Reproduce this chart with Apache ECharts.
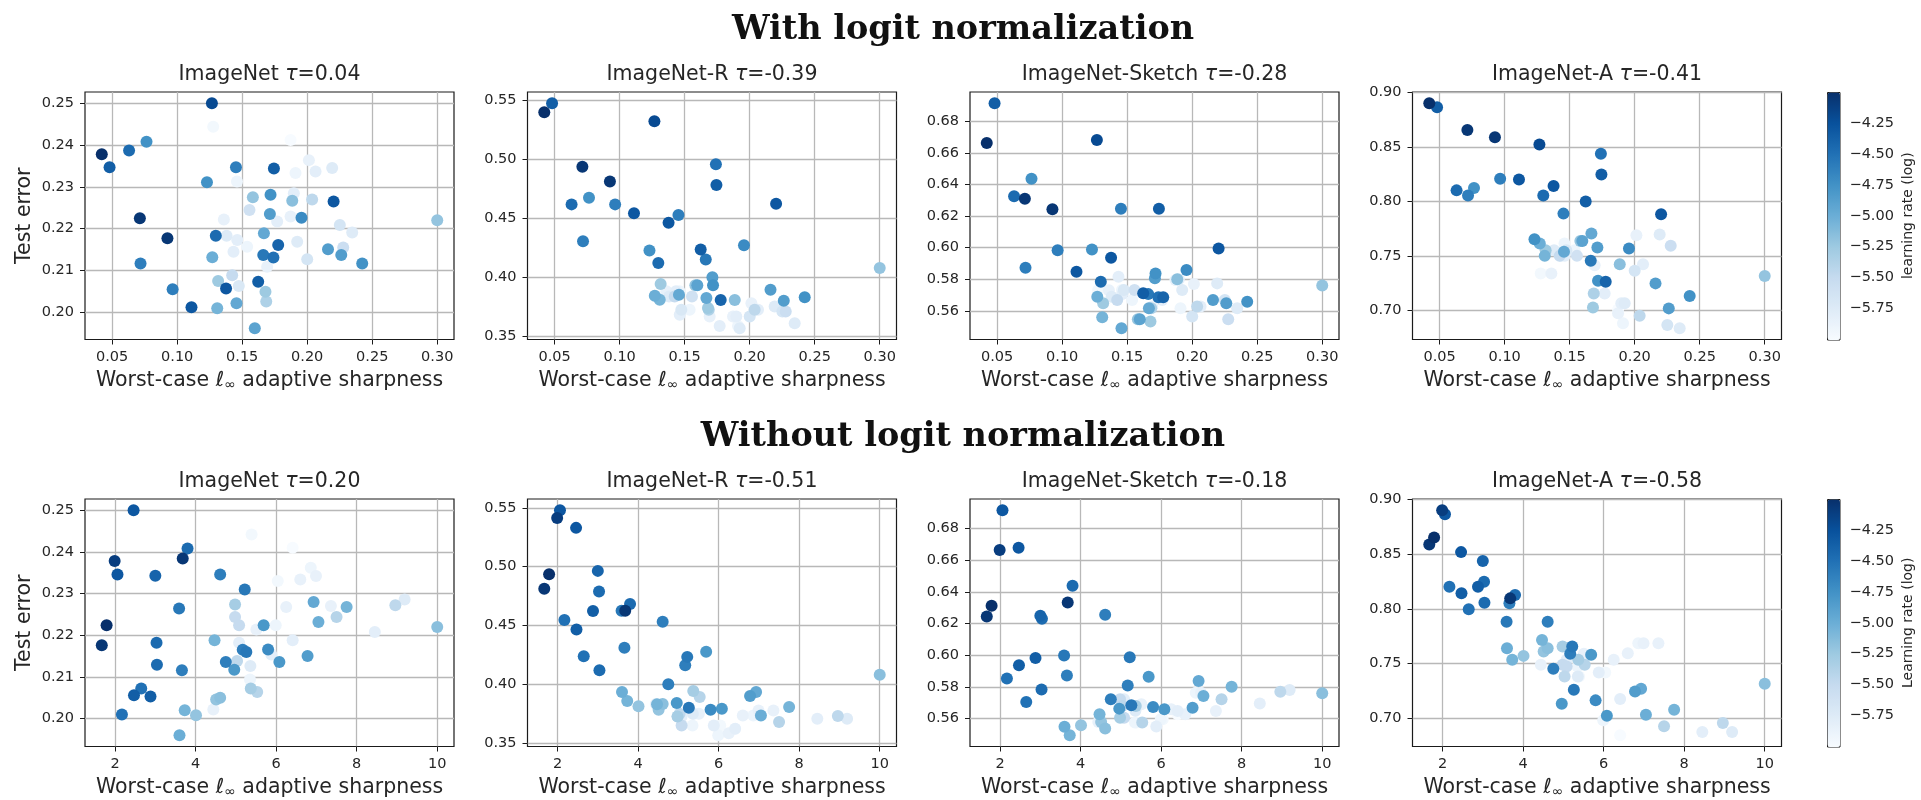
<!DOCTYPE html>
<html>
<head>
<meta charset="utf-8">
<script src="https://cdn.jsdelivr.net/npm/echarts@6/dist/echarts.min.js"></script>
<style>
  html, body { margin: 0; padding: 0; background: #ffffff; }
  #chart { width: 1921px; height: 800px; }
</style>
</head>
<body>
<div id="chart"></div>
<script>
// ---- panels ----
const DATASETS = ['ImageNet', 'ImageNet-R', 'ImageNet-Sketch', 'ImageNet-A'];
const TAU_NORM = ['0.04', '-0.39', '-0.28', '-0.41'];
const TAU_RAW = ['0.20', '-0.51', '-0.18', '-0.58'];

// ---- tick labels ----
const X_TICKS_NORM = [0.05, 0.10, 0.15, 0.20, 0.25, 0.30];
const X_TICKS_RAW = [2, 4, 6, 8, 10];
const Y_TICKS_IN = [0.20, 0.21, 0.22, 0.23, 0.24, 0.25];
const Y_TICKS_R = [0.35, 0.40, 0.45, 0.50, 0.55];
const Y_TICKS_SKETCH = [0.56, 0.58, 0.60, 0.62, 0.64, 0.66, 0.68];
const Y_TICKS_A = [0.70, 0.75, 0.80, 0.85, 0.90];
const CBAR_TICKS = [-5.75, -5.50, -5.25, -5.00, -4.75, -4.50, -4.25];

// ---- with logit normalization: one entry per model ----
const SHARP_NORM = [0.042, 0.048, 0.063, 0.0713, 0.0718, 0.0764, 0.0925, 0.0965, 0.111, 0.1267,
  0.1229, 0.1297, 0.1376, 0.1452, 0.1744, 0.1740, 0.1623, 0.2203, 0.1662, 0.1777,
  0.1956, 0.216, 0.2262, 0.2423, 0.30, 0.1718, 0.1713, 0.1667, 0.1582, 0.127,
  0.1315, 0.1308, 0.1456, 0.1597, 0.1679, 0.1685, 0.1885, 0.2038, 0.1556, 0.1359,
  0.138, 0.1462, 0.1538, 0.1433, 0.1423, 0.1474, 0.1692, 0.1769, 0.1872, 0.1923,
  0.2, 0.191, 0.2013, 0.2064, 0.2192, 0.1872, 0.1277, 0.2251, 0.2346, 0.2277,
  0.1897, 0.146];
const LR_NORM = [-4.0, -4.35, -4.45, -4.05, -4.6, -4.75, -4.05, -4.6, -4.3, -4.2,
  -4.75, -4.45, -4.3, -4.6, -4.35, -4.5, -4.35, -4.3, -4.55, -4.4,
  -4.7, -4.85, -4.85, -4.75, -5.2, -4.75, -4.85, -4.95, -5.2, -5.0,
  -5.25, -5.05, -4.95, -4.9, -5.25, -5.35, -5.15, -5.45, -5.6, -5.85,
  -5.75, -5.8, -5.9, -5.8, -5.5, -5.7, -5.85, -5.8, -5.85, -5.75,
  -5.65, -5.9, -5.85, -5.8, -5.75, -6.0, -5.95, -5.65, -5.75, -5.55,
  -5.8, -5.9];
const ERR_NORM_IN = [0.2378, 0.2347, 0.2387, 0.2225, 0.2117, 0.2408, 0.2177, 0.2055, 0.2012, 0.25,
  0.2311, 0.2183, 0.2057, 0.2347, 0.2344, 0.2131, 0.2073, 0.2265, 0.2137, 0.2161,
  0.2226, 0.2151, 0.2137, 0.2117, 0.222, 0.2281, 0.2235, 0.2189, 0.2275, 0.2132,
  0.2075, 0.201, 0.2022, 0.1962, 0.2049, 0.2026, 0.2267, 0.227, 0.2245, 0.2222,
  0.2183, 0.2173, 0.2157, 0.2145, 0.2089, 0.2063, 0.2109, 0.2217, 0.2229, 0.2169,
  0.2127, 0.2333, 0.2364, 0.2337, 0.2345, 0.2412, 0.2444, 0.2209, 0.2191, 0.2155,
  0.2285, 0.2313];
const ERR_NORM_R = [0.540, 0.5477, 0.4619, 0.4938, 0.4307, 0.4676, 0.4813, 0.4619, 0.4543, 0.5324,
  0.4227, 0.4122, 0.4463, 0.4528, 0.4784, 0.496, 0.4236, 0.4625, 0.4151, 0.3807,
  0.4273, 0.3895, 0.3801, 0.3832, 0.408, 0.3932, 0.40, 0.3824, 0.3932, 0.3844,
  0.3943, 0.381, 0.3852, 0.3932, 0.3739, 0.3725, 0.3807, 0.3725, 0.3838, 0.3881,
  0.3838, 0.3682, 0.3725, 0.3881, 0.3838, 0.3725, 0.3668, 0.3588, 0.3668, 0.3568,
  0.3668, 0.3588, 0.3781, 0.3725, 0.3753, 0.3668, 0.3838, 0.371, 0.3611, 0.371,
  0.3668, 0.3881];
const ERR_NORM_SKETCH = [0.6663, 0.6914, 0.6325, 0.631, 0.5873, 0.6436, 0.6243, 0.5984, 0.5848, 0.6682,
  0.5989, 0.5785, 0.5936, 0.6247, 0.6247, 0.5686, 0.5711, 0.5995, 0.5706, 0.5686,
  0.5858, 0.5669, 0.5648, 0.5658, 0.576, 0.5837, 0.5806, 0.5617, 0.5547, 0.569,
  0.5648, 0.556, 0.549, 0.5547, 0.5532, 0.5617, 0.58, 0.5627, 0.5732, 0.573,
  0.569, 0.5706, 0.5669, 0.5816, 0.5669, 0.5732, 0.5627, 0.5669, 0.5795, 0.5732,
  0.5564, 0.5617, 0.577, 0.5627, 0.5774, 0.5795, 0.5732, 0.5669, 0.5617, 0.5547,
  0.58, 0.5732];
const ERR_NORM_A = [0.890, 0.8863, 0.8102, 0.8656, 0.8056, 0.8123, 0.8589, 0.8209, 0.8202, 0.8522,
  0.7655, 0.8056, 0.8142, 0.7889, 0.8248, 0.8437, 0.80, 0.7883, 0.7457, 0.7265,
  0.7569, 0.725, 0.7021, 0.7134, 0.7317, 0.7274, 0.7578, 0.7706, 0.7639, 0.7615,
  0.7554, 0.7502, 0.7539, 0.7639, 0.703, 0.7158, 0.7426, 0.6954, 0.7502, 0.734,
  0.7554, 0.7502, 0.7554, 0.7502, 0.7502, 0.7554, 0.7417, 0.7158, 0.6976, 0.7067,
  0.7365, 0.6884, 0.7691, 0.7426, 0.7697, 0.7010, 0.734, 0.6869, 0.6839, 0.7594,
  0.7067, 0.7615];

// ---- without logit normalization: one entry per model ----
const SHARP_RAW = [1.67, 1.79, 1.99, 2.06, 2.17, 2.46, 2.47, 2.65, 2.88, 3.0,
  3.03, 3.04, 3.59, 3.66, 3.68, 3.80, 4.61, 3.60, 3.73, 4.01,
  4.47, 4.75, 4.96, 5.26, 5.22, 5.17, 5.69, 5.80, 6.08, 6.78,
  6.93, 7.05, 7.75, 10.0, 4.51, 4.61, 4.98, 5.37, 5.53, 7.50,
  8.96, 4.98, 5.08, 5.03, 4.44, 5.08, 5.35, 5.36, 5.51, 5.88,
  5.99, 6.25, 6.41, 6.04, 6.60, 6.86, 6.99, 6.41, 5.39, 7.36,
  8.45, 9.19];
const LR_RAW = [-4.05, -4.0, -4.1, -4.3, -4.5, -4.3, -4.35, -4.5, -4.35, -4.4,
  -4.45, -4.45, -4.55, -4.6, -4.05, -4.45, -4.6, -5.0, -5.05, -5.2,
  -5.05, -4.6, -4.8, -4.55, -4.55, -4.6, -4.8, -4.7, -4.8, -4.85,
  -4.95, -5.0, -5.05, -5.15, -5.2, -5.15, -5.3, -5.3, -5.4, -5.4,
  -5.45, -5.5, -5.5, -5.45, -5.85, -5.8, -5.9, -5.75, -5.85, -5.8,
  -5.9, -5.85, -5.8, -5.95, -5.85, -5.9, -5.85, -6.0, -5.95, -5.85,
  -5.8, -5.75];
const ERR_RAW_IN = [0.2176, 0.2224, 0.2378, 0.2346, 0.201, 0.250, 0.2056, 0.2072, 0.2053, 0.2343,
  0.2182, 0.2129, 0.2264, 0.2116, 0.2384, 0.2408, 0.2346, 0.196, 0.202, 0.2008,
  0.2188, 0.2136, 0.2117, 0.216, 0.231, 0.2165, 0.2224, 0.2166, 0.2136, 0.215,
  0.228, 0.2232, 0.2268, 0.222, 0.2046, 0.205, 0.2274, 0.2072, 0.2064, 0.2244,
  0.2272, 0.2244, 0.2224, 0.2138, 0.2022, 0.2182, 0.2094, 0.2126, 0.2214, 0.2154,
  0.2224, 0.2268, 0.2188, 0.233, 0.2334, 0.2362, 0.2342, 0.241, 0.2442, 0.227,
  0.2208, 0.2286];
const ERR_RAW_R = [0.4811, 0.4936, 0.5415, 0.548, 0.4546, 0.533, 0.4466, 0.4238, 0.4623, 0.4964,
  0.4788, 0.4118, 0.4625, 0.4309, 0.4625, 0.4682, 0.4531, 0.3933, 0.3856, 0.3811,
  0.3828, 0.3999, 0.3839, 0.3799, 0.4232, 0.4161, 0.4275, 0.3782, 0.3791, 0.3899,
  0.3933, 0.3734, 0.3805, 0.408, 0.3782, 0.3830, 0.3725, 0.3942, 0.389, 0.3677,
  0.3728, 0.3725, 0.3648, 0.3748, 0.383, 0.3725, 0.3648, 0.3748, 0.3748, 0.3648,
  0.3565, 0.3583, 0.362, 0.3648, 0.3734, 0.3734, 0.3776, 0.362, 0.3748, 0.3776,
  0.3705, 0.3705];
const ERR_RAW_SKETCH = [0.6245, 0.6312, 0.6664, 0.6915, 0.5853, 0.6679, 0.5937, 0.5705, 0.5983, 0.6249,
  0.5784, 0.6230, 0.5998, 0.5872, 0.6333, 0.6438, 0.6255, 0.5548, 0.5495, 0.5558,
  0.5627, 0.5722, 0.5663, 0.5684, 0.5987, 0.5809, 0.5864, 0.5673, 0.5659, 0.5669,
  0.5837, 0.5742, 0.5801, 0.576, 0.5579, 0.5537, 0.5606, 0.568, 0.5575, 0.5722,
  0.577, 0.5722, 0.5606, 0.568, 0.5579, 0.5722, 0.5575, 0.565, 0.569, 0.555,
  0.5596, 0.5659, 0.5648, 0.5596, 0.5627, 0.5763, 0.5763, 0.5627, 0.5575, 0.5648,
  0.5696, 0.578];
const ERR_RAW_A = [0.859, 0.8653, 0.8903, 0.8866, 0.8204, 0.852, 0.8143, 0.7997, 0.8204, 0.8438,
  0.8249, 0.8058, 0.7884, 0.8052, 0.8097, 0.8128, 0.7884, 0.7641, 0.7535, 0.7571,
  0.7717, 0.7453, 0.7134, 0.7261, 0.7656, 0.759, 0.7581, 0.7164, 0.7024, 0.7246,
  0.727, 0.7033, 0.7079, 0.7316, 0.7611, 0.7641, 0.7656, 0.7535, 0.749, 0.6927,
  0.6957, 0.749, 0.7474, 0.7383, 0.749, 0.7535, 0.7474, 0.7383, 0.759, 0.742,
  0.6982, 0.7535, 0.7176, 0.742, 0.7596, 0.7687, 0.7687, 0.6845, 0.7383, 0.7687,
  0.6875, 0.6875];

// matplotlib "Blues" colormap stops
const BLUES = ['#f7fbff', '#deebf7', '#c6dbef', '#9ecae1', '#6baed6', '#4292c6', '#2171b5', '#08519c', '#08306b'];

// ---- layout ----
const FONT = 'DejaVu Sans';
const INK = '#262626';
const PANEL_LEFT = [85, 527.5, 970, 1412.5];
const PANEL_W = 369;
const ROW_TOP = [92, 499];
const PANEL_H = 247.5;
const CBAR_LEFT = 1827;
const CBAR_W = 12.5;

const rows = [
  { sharp: SHARP_NORM, lr: LR_NORM, tau: TAU_NORM, xTicks: X_TICKS_NORM,
    errs: [ERR_NORM_IN, ERR_NORM_R, ERR_NORM_SKETCH, ERR_NORM_A],
    xFmt: v => v.toFixed(2), heading: 'With logit normalization', cbarName: 'learning rate (log)' },
  { sharp: SHARP_RAW, lr: LR_RAW, tau: TAU_RAW, xTicks: X_TICKS_RAW,
    errs: [ERR_RAW_IN, ERR_RAW_R, ERR_RAW_SKETCH, ERR_RAW_A],
    xFmt: v => String(Math.round(v)), heading: 'Without logit normalization', cbarName: 'Learning rate (log)' }
];
const Y_TICKS = [Y_TICKS_IN, Y_TICKS_R, Y_TICKS_SKETCH, Y_TICKS_A];

// matplotlib-style autoscale: data extent plus 5% margin on each side
function padExtent(vals) {
  const lo = Math.min(...vals), hi = Math.max(...vals), m = (hi - lo) * 0.05;
  return [lo - m, hi + m];
}
// draw lighter (lower learning rate) markers first
function panelData(sharp, err, lr) {
  const order = sharp.map((_, i) => i).sort((a, b) => lr[a] - lr[b]);
  return order.map(i => [sharp[i], err[i], lr[i]]);
}

const labelStyle = { fontFamily: FONT, fontSize: 14.5, color: INK, fontWeight: 'normal' };
const nameRich = {
  a: { fontFamily: FONT, fontSize: 20.5, color: INK, fontWeight: 'normal' },
  l: { fontFamily: FONT, fontSize: 20.5, color: INK, fontStyle: 'italic', fontWeight: 'normal' },
  s: { fontFamily: FONT, fontSize: 14, color: INK, fontWeight: 'normal', padding: [10, 0, 0, 0] }
};
const GRID_LINE = { show: true, lineStyle: { color: '#b8b8b8', width: 1.3 } };
const TICK_LINE = { color: '#1a1a1a', width: 1 };

const grid = [], xAxis = [], yAxis = [], series = [], title = [], visualMap = [];

rows.forEach((row, r) => {
  const xExt = padExtent(row.sharp);
  const rowSeries = [];
  for (let c = 0; c < 4; c++) {
    const gi = grid.length;
    grid.push({
      left: PANEL_LEFT[c], top: ROW_TOP[r], width: PANEL_W, height: PANEL_H,
      show: true, borderColor: '#1a1a1a', borderWidth: 1.2, backgroundColor: 'transparent',
      containLabel: false, outerBoundsMode: 'none'
    });
    xAxis.push({
      gridIndex: gi, type: 'value', min: xExt[0], max: xExt[1],
      axisLine: { show: false },
      axisTick: { show: true, customValues: row.xTicks, length: 5, lineStyle: TICK_LINE },
      axisLabel: Object.assign({ customValues: row.xTicks, formatter: row.xFmt, margin: 10 }, labelStyle),
      splitLine: GRID_LINE,
      name: '{a|Worst-case }{l|\u2113}{s|\u221E}{a| adaptive sharpness}',
      nameLocation: 'middle', nameGap: 29,
      nameTextStyle: { rich: nameRich }
    });
    const yExt = padExtent(row.errs[c]);
    const yAx = {
      gridIndex: gi, type: 'value', min: yExt[0], max: yExt[1],
      axisLine: { show: false },
      axisTick: { show: true, customValues: Y_TICKS[c], length: 5, lineStyle: TICK_LINE },
      axisLabel: Object.assign({ customValues: Y_TICKS[c], formatter: v => v.toFixed(2), margin: 11 }, labelStyle),
      splitLine: GRID_LINE
    };
    if (c === 0) {
      yAx.name = 'Test error';
      yAx.nameLocation = 'middle';
      yAx.nameGap = 50;
      yAx.nameTextStyle = { fontFamily: FONT, fontSize: 20.5, color: INK };
    }
    yAxis.push(yAx);
    rowSeries.push(series.length);
    series.push({
      type: 'scatter', xAxisIndex: gi, yAxisIndex: gi,
      symbol: 'circle', symbolSize: 12,
      itemStyle: { opacity: 1, borderWidth: 0 },
      emphasis: { disabled: true },
      data: panelData(row.sharp, row.errs[c], row.lr)
    });
    title.push({
      text: '{n|' + DATASETS[c] + ' }{t|\u03C4}{n|=' + row.tau[c] + '}',
      left: PANEL_LEFT[c] + PANEL_W / 2, top: ROW_TOP[r] - 17,
      textAlign: 'center', textVerticalAlign: 'middle', padding: 0,
      textStyle: {
        fontWeight: 'normal',
        rich: {
          n: { fontFamily: FONT, fontSize: 20.5, color: INK, fontWeight: 'normal' },
          t: { fontFamily: FONT, fontSize: 20.5, color: INK, fontStyle: 'italic', fontWeight: 'normal' }
        }
      }
    });
  }

  // colour bar for this row
  const lrExt = [Math.min(...row.lr), Math.max(...row.lr)];
  visualMap.push({
    type: 'continuous', min: lrExt[0], max: lrExt[1], dimension: 2,
    seriesIndex: rowSeries, inRange: { color: BLUES },
    orient: 'vertical', left: CBAR_LEFT, top: ROW_TOP[r], itemWidth: CBAR_W, itemHeight: PANEL_H,
    padding: 0, borderColor: '#1a1a1a', borderWidth: 1, calculable: false, hoverLink: false,
    realtime: false, text: null, showLabel: false
  });
  const cg = grid.length;
  grid.push({ left: CBAR_LEFT, top: ROW_TOP[r], width: CBAR_W, height: PANEL_H, show: false,
    containLabel: false, outerBoundsMode: 'none' });
  xAxis.push({ gridIndex: cg, type: 'value', min: 0, max: 1, show: false });
  yAxis.push({
    gridIndex: cg, type: 'value', position: 'right', min: lrExt[0], max: lrExt[1],
    axisLine: { show: false },
    axisTick: { show: true, customValues: CBAR_TICKS, length: 5, lineStyle: TICK_LINE },
    axisLabel: Object.assign({ customValues: CBAR_TICKS, margin: 10,
      formatter: v => v.toFixed(2).replace('-', '\u2212') }, labelStyle),
    splitLine: { show: false },
    name: row.cbarName, nameLocation: 'middle', nameGap: 62,
    nameTextStyle: { fontFamily: FONT, fontSize: 14, color: INK }
  });

  title.push({
    text: row.heading, left: 963, top: r === 0 ? 30 : 437,
    textAlign: 'center', textVerticalAlign: 'middle', padding: 0,
    textStyle: { fontFamily: 'DejaVu Serif', fontWeight: 'bold', fontSize: 33.5, color: '#111' }
  });
});

const chart = echarts.init(document.getElementById('chart'), null, { renderer: 'canvas' });
chart.setOption({
  animation: false,
  backgroundColor: '#ffffff',
  title, grid, xAxis, yAxis, visualMap, series
});
</script>
</body>
</html>
